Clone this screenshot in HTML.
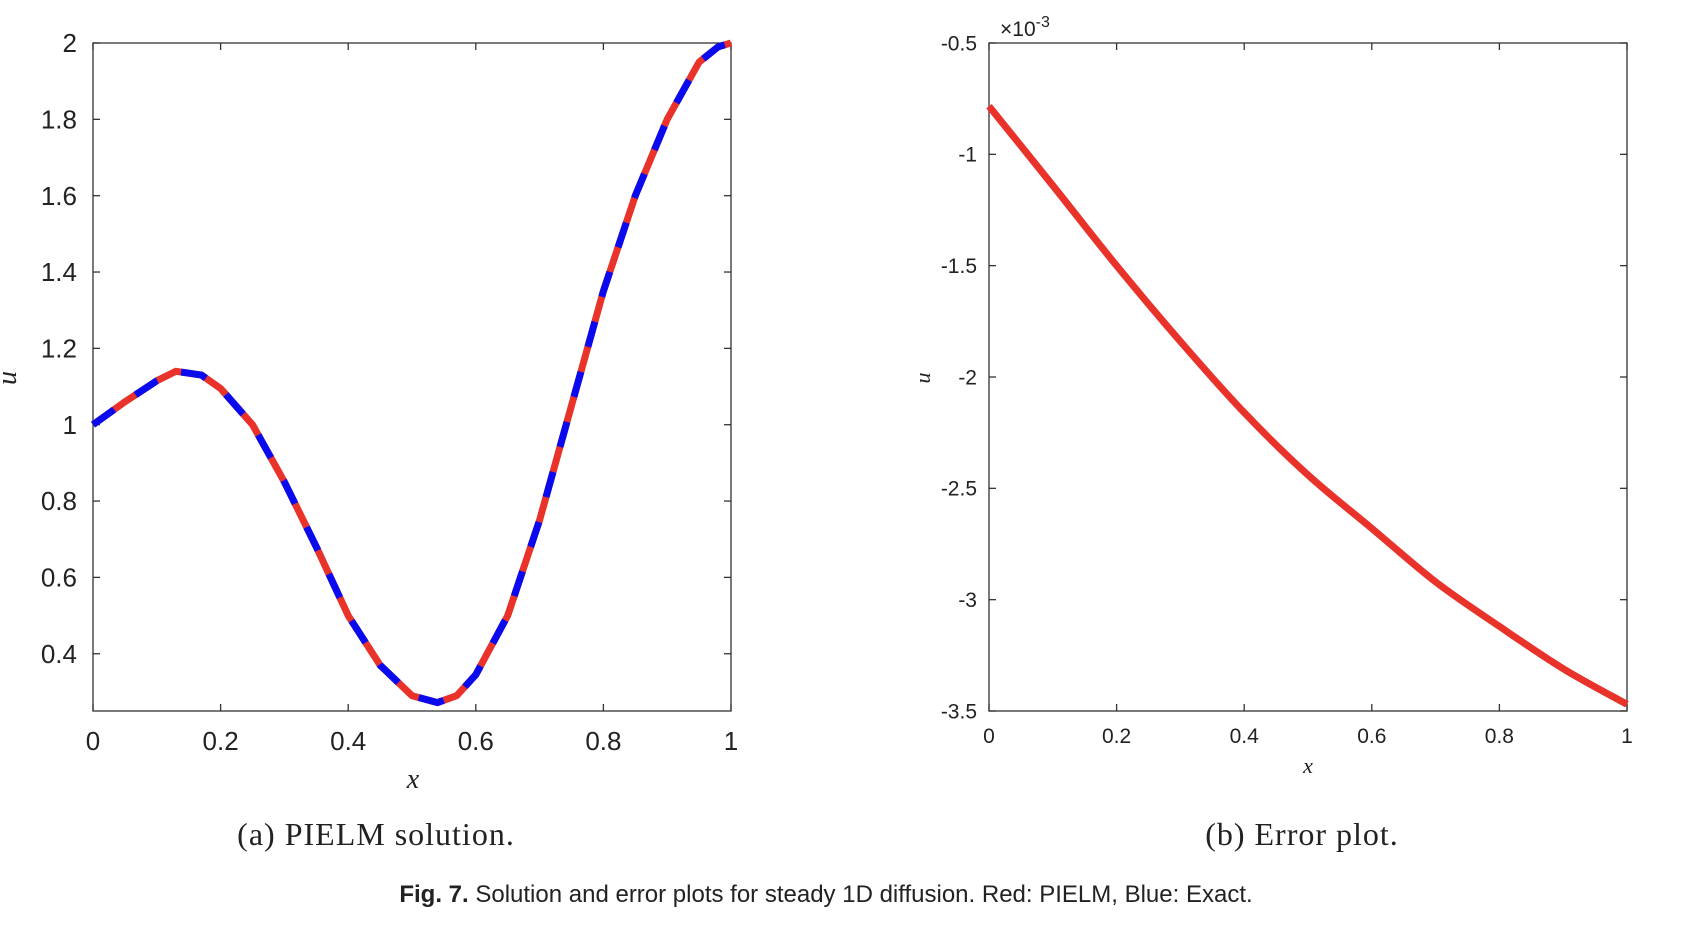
<!DOCTYPE html>
<html><head><meta charset="utf-8"><style>
html,body{margin:0;padding:0;background:#fff;}
svg{display:block;}
.tick{font-family:"Liberation Sans",sans-serif;fill:#222;}
.serif{font-family:"Liberation Serif",serif;fill:#222;}
</style></head><body>
<svg id="chart" width="1688" height="940" viewBox="0 0 1688 940"></svg>
<script>
const xsA = [0,0.05,0.1,0.13,0.17,0.2,0.25,0.3,0.35,0.4,0.45,0.5,0.54,0.57,0.6,0.65,0.7,0.75,0.8,0.85,0.9,0.95,0.98,1.0];
const usA = [1,1.06,1.115,1.14,1.13,1.095,1.0,0.85,0.68,0.5,0.37,0.29,0.272,0.29,0.345,0.5,0.75,1.05,1.35,1.6,1.8,1.95,1.99,2.0];
const xsB = [0,0.1,0.2,0.3,0.4,0.5,0.6,0.7,0.8,0.9,1.0];
const errB = [-0.784,-1.14,-1.5,-1.84,-2.16,-2.44,-2.68,-2.92,-3.12,-3.31,-3.47];
const xTicks = [0,0.2,0.4,0.6,0.8,1];
const yTicksA = [0.4,0.6,0.8,1,1.2,1.4,1.6,1.8,2];
const yTicksB = [-3.5,-3,-2.5,-2,-1.5,-1,-0.5];

const NS="http://www.w3.org/2000/svg";
const svg=document.getElementById('chart');
function mk(tag,attrs,parent){const e=document.createElementNS(NS,tag);for(const k in attrs)e.setAttribute(k,attrs[k]);(parent||svg).appendChild(e);return e;}

function axes(cfg){
  const g=mk('g',{});
  
  
  const {l,r,t,b}=cfg;
  const sx=v=>l+(v-cfg.x0)/(cfg.x1-cfg.x0)*(r-l);
  const sy=v=>b-(v-cfg.y0)/(cfg.y1-cfg.y0)*(b-t);
  const box=mk('rect',{x:l,y:t,width:r-l,height:b-t,fill:'none',stroke:'#333','stroke-width':1.3},g);
  
  
  xTicks.forEach(v=>{
    const x=sx(v);
    mk('line',{x1:x,x2:x,y1:b,y2:b-7,stroke:'#333','stroke-width':1.3},g);
    mk('line',{x1:x,x2:x,y1:t,y2:t+7,stroke:'#333','stroke-width':1.3},g);
    const tx=mk('text',{x:x,y:cfg.xlabY,'text-anchor':'middle','font-size':cfg.fs,class:'tick'},g);
    tx.textContent=String(v);
    
    
  });
  cfg.yTicks.forEach(v=>{
    const y=sy(v);
    mk('line',{x1:l,x2:l+7,y1:y,y2:y,stroke:'#333','stroke-width':1.3},g);
    mk('line',{x1:r,x2:r-7,y1:y,y2:y,stroke:'#333','stroke-width':1.3},g);
    const ty=mk('text',{x:l-cfg.ylabGap,y:y+cfg.fs*0.35,'text-anchor':'end','font-size':cfg.fs,class:'tick'},g);
    ty.textContent=String(v);
    
    
  });
  return {sx,sy,g};
}
function smooth(P){
  let d='M'+P[0][0].toFixed(1)+','+P[0][1].toFixed(1);
  for(let i=0;i<P.length-1;i++){
    const p0=P[i-1]||P[i],p1=P[i],p2=P[i+1],p3=P[i+2]||p2;
    const c1=[p1[0]+(p2[0]-p0[0])/6,p1[1]+(p2[1]-p0[1])/6];
    const c2=[p2[0]-(p3[0]-p1[0])/6,p2[1]-(p3[1]-p1[1])/6];
    d+=' C'+c1.map(v=>v.toFixed(1))+' '+c2.map(v=>v.toFixed(1))+' '+p2.map(v=>v.toFixed(1));
  }
  return d;
}

// Plot A
const A=axes({name:'solution-plot',l:93,r:731,t:43,b:711,x0:0,x1:1,y0:0.25,y1:2,yTicks:yTicksA,fs:26,xlabY:750,ylabGap:16});
const dA=xsA.map((x,i)=>(i?'L':'M')+A.sx(x).toFixed(1)+','+A.sy(usA[i]).toFixed(1)).join(' ');
const red=mk('path',{d:dA,fill:'none',stroke:'#e8322a','stroke-width':7,'stroke-linejoin':'round'});


const blue=mk('path',{d:dA,fill:'none',stroke:'#0a0aee','stroke-width':7,'stroke-dasharray':'26 26'});



// Plot B
const B=axes({name:'error-plot',l:989,r:1627,t:43,b:711,x0:0,x1:1,y0:-3.5,y1:-0.5,yTicks:yTicksB,fs:21,xlabY:743,ylabGap:12});
const dB=smooth(xsB.map((x,i)=>[B.sx(x),B.sy(errB[i])]));
const eline=mk('path',{d:dB,fill:'none',stroke:'#e8322a','stroke-width':7,'stroke-linejoin':'round'});



function txt(s,attrs,name){const t=mk('text',attrs);t.textContent=s;return t;}
txt('x',{x:413,y:788,'text-anchor':'middle','font-size':28,'font-style':'italic',class:'serif'},'x-axis-title-a');
txt('u',{x:0,y:0,'text-anchor':'middle','font-size':28,'font-style':'italic',class:'serif',transform:'translate(16,378) rotate(-90)'},'y-axis-title-a');
txt('x',{x:1308,y:773,'text-anchor':'middle','font-size':22,'font-style':'italic',class:'serif'},'x-axis-title-b');
txt('u',{x:0,y:0,'text-anchor':'middle','font-size':22,'font-style':'italic',class:'serif',transform:'translate(930,378) rotate(-90)'},'y-axis-title-b');
const ex=txt('×10',{x:1000,y:36,'font-size':21,class:'tick'},'exponent-label');
const sup=mk('tspan',{dy:-9,'font-size':16});sup.textContent='-3';ex.appendChild(sup);
txt('(a) PIELM solution.',{x:376,y:845,'text-anchor':'middle','font-size':32,'letter-spacing':1,class:'serif'},'caption-a');
txt('(b) Error plot.',{x:1302,y:845,'text-anchor':'middle','font-size':32,'letter-spacing':1,class:'serif'},'caption-b');
const fc=txt('',{x:826,y:902,'text-anchor':'middle','font-size':24,class:'tick'},'figure-caption');
const b1=mk('tspan',{'font-weight':'bold'},fc);b1.textContent='Fig. 7.';
const b2=mk('tspan',{},fc);b2.textContent='  Solution and error plots for steady 1D diffusion. Red: PIELM, Blue: Exact.';
</script>
</body></html>
